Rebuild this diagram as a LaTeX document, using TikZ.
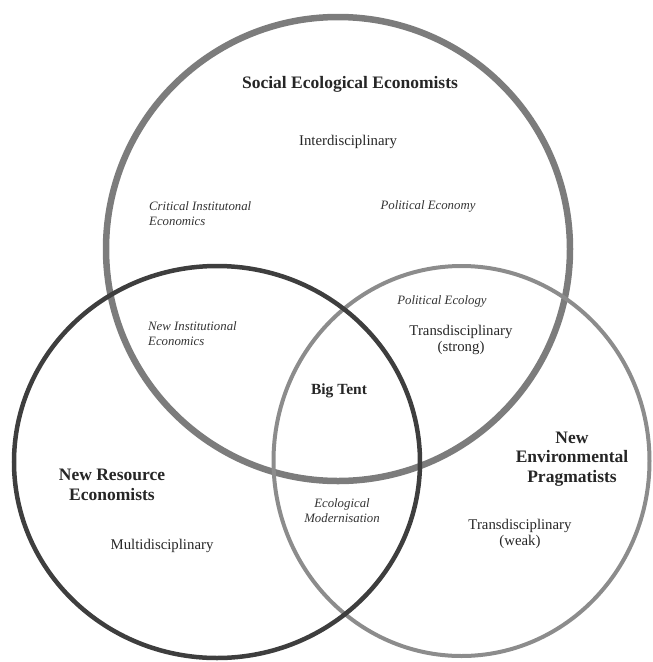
\documentclass[tikz,border=0pt]{standalone}
\usepackage{fontspec}
\setmainfont{Liberation Serif}
\definecolor{topgray}{HTML}{7C7C7C}
\definecolor{leftgray}{HTML}{3E3E3E}
\definecolor{rightgray}{HTML}{8C8C8C}
\begin{document}
\begin{tikzpicture}[x=1pt,y=-1pt,
  grouptitle/.style={font=\fontsize{17.5}{19.5}\selectfont\bfseries,align=center,text=black!85,inner sep=0pt},
  disc/.style={font=\fontsize{14.8}{16.5}\selectfont,align=center,text=black!85,inner sep=0pt},
  school/.style={font=\fontsize{12.8}{15}\selectfont\itshape,text=black!80,inner sep=0pt},
  schoolL/.style={school,align=left,anchor=west},
  schoolC/.style={school,align=center}]
\useasboundingbox (0,0) rectangle (653,662);
% circles
\draw[topgray,line width=6.5pt] (338,249) ellipse [x radius=232, y radius=232];
\draw[rightgray,line width=4pt] (461.5,461) ellipse [x radius=188, y radius=195];
\draw[leftgray,line width=4.5pt] (217,462) ellipse [x radius=203, y radius=196];
% labels
\node[grouptitle] (see) at (350,84) {Social Ecological Economists};
\node[disc] (inter) at (348,142) {Interdisciplinary};
\node[schoolL] (cie) at (149,214) {Critical Institutonal\\Economics};
\node[schoolC] (pecon) at (428,206) {Political Economy};
\node[schoolC] (pecol) at (442,301) {Political Ecology};
\node[disc] (tstrong) at (461,340) {Transdisciplinary\\(strong)};
\node[schoolL] (nie) at (148,334) {New Institutional\\Economics};
\node[grouptitle,font=\fontsize{15.5}{17}\selectfont\bfseries] (tent) at (339,391) {Big Tent};
\node[grouptitle] (nre) at (112,485) {New Resource\\Economists};
\node[disc] (multi) at (162,546) {Multidisciplinary};
\node[schoolC] (ecomod) at (342,511) {Ecological\\Modernisation};
\node[grouptitle] (nep) at (572,459) {New\\Environmental\\Pragmatists};
\node[disc] (tweak) at (520,534) {Transdisciplinary\\(weak)};
\end{tikzpicture}
\end{document}
